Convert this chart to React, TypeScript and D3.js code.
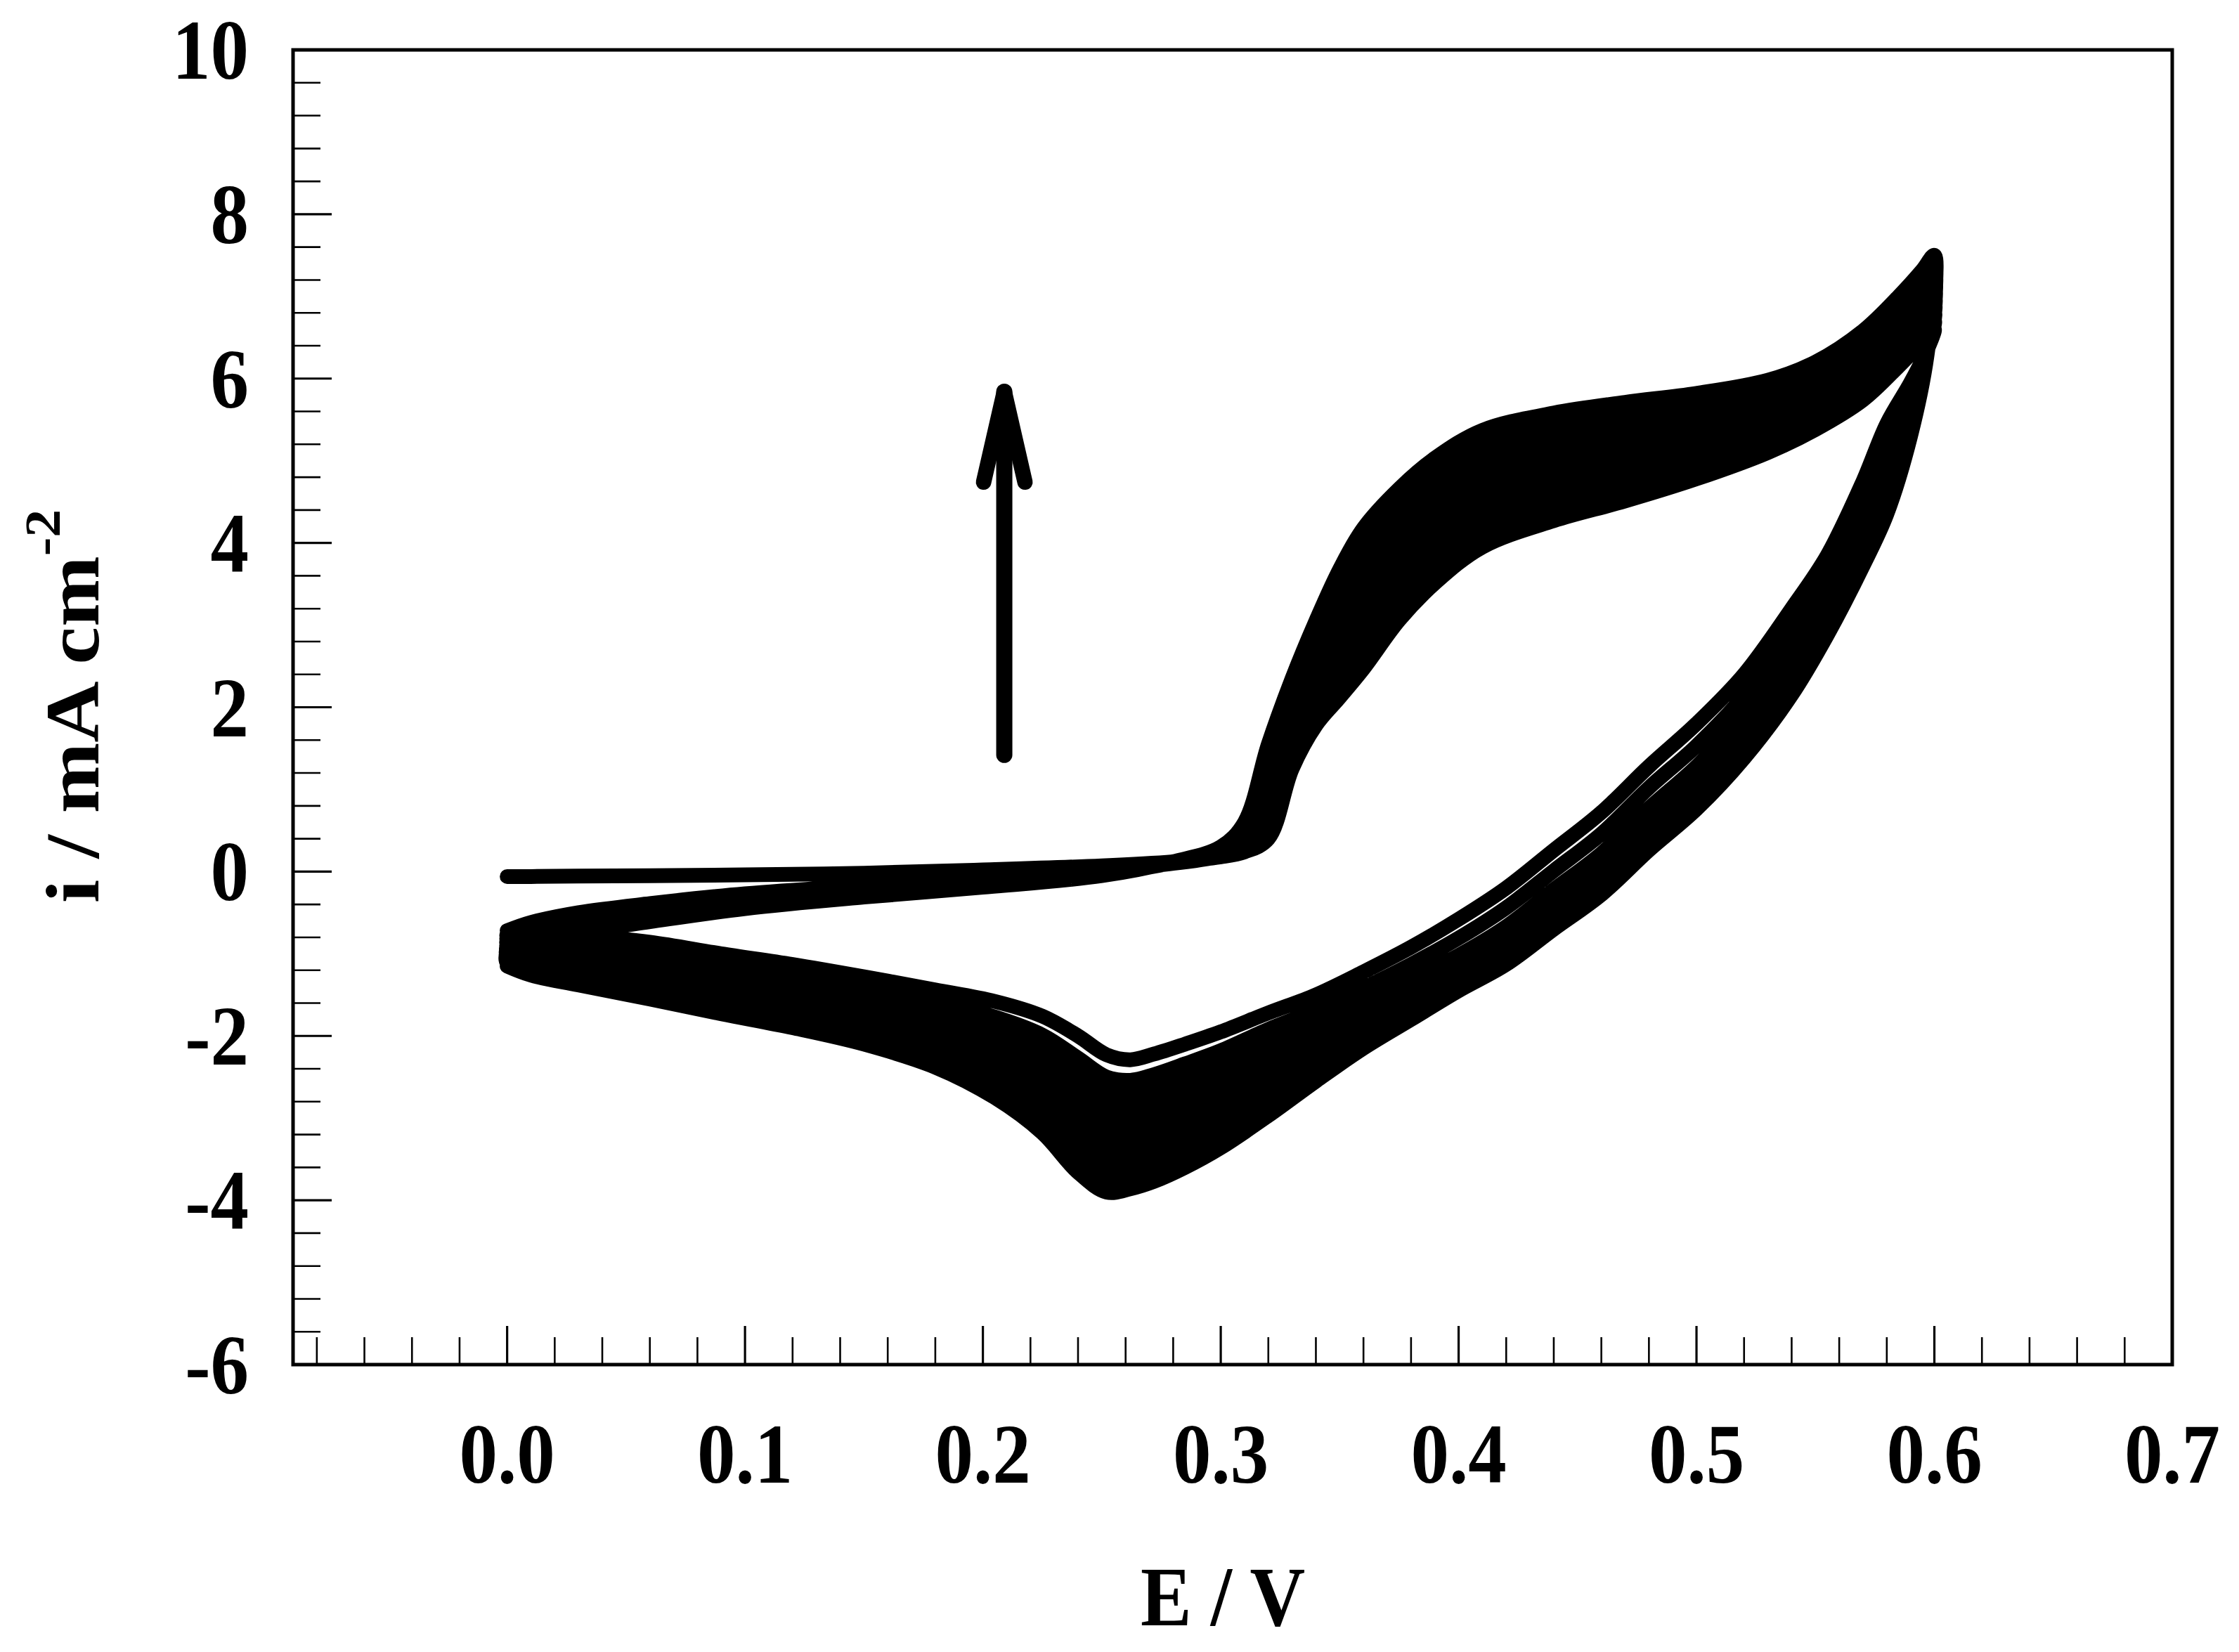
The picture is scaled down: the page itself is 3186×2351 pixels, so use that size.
import React from 'react';
import * as d3 from 'd3';

// ---------- axes ----------
const X_DOMAIN = [-0.09, 0.7];
const Y_DOMAIN = [-6, 10];
const X_TICK_VALUES = [0.0, 0.1, 0.2, 0.3, 0.4, 0.5, 0.6, 0.7];
const X_TICK_LABELS = ['0.0', '0.1', '0.2', '0.3', '0.4', '0.5', '0.6', '0.7'];
const Y_TICK_VALUES = [10, 8, 6, 4, 2, 0, -2, -4, -6];
const Y_TICK_LABELS = ['10', '8', '6', '4', '2', '0', '-2', '-4', '-6'];
const X_TITLE = 'E / V';
const Y_TITLE = 'i / mA cm';
const Y_TITLE_SUP = '-2';

// ---------- potential grids (V) ----------
const FWD_E = [0.000, 0.010, 0.030, 0.060, 0.100, 0.150, 0.200, 0.250, 0.280, 0.300, 0.310, 0.320, 0.330, 0.340, 0.350, 0.360, 0.375, 0.390, 0.410, 0.440, 0.470, 0.500, 0.530, 0.550, 0.570, 0.585, 0.595, 0.600];
const REV_E = [0.600, 0.597, 0.590, 0.580, 0.570, 0.555, 0.540, 0.520, 0.500, 0.480, 0.460, 0.440, 0.420, 0.400, 0.380, 0.360, 0.340, 0.320, 0.300, 0.285, 0.272, 0.262, 0.252, 0.240, 0.225, 0.205, 0.180, 0.150, 0.120, 0.090, 0.060, 0.030, 0.010, 0.000];

// ---------- current densities (mA cm-2), forward scans ----------
const C1_FWD = [-0.06, -0.06, -0.055, -0.05, -0.04, -0.02, 0.02, 0.07, 0.12, 0.18, 0.24, 0.40, 1.25, 1.78, 2.12, 2.47, 3.06, 3.51, 3.95, 4.27, 4.51, 4.78, 5.10, 5.38, 5.74, 6.15, 6.45, 6.60];
const C2_FWD = [-0.72, -0.62, -0.50, -0.39, -0.27, -0.17, -0.08, 0.03, 0.10, 0.19, 0.28, 0.54, 1.38, 1.93, 2.31, 2.68, 3.25, 3.69, 4.12, 4.43, 4.65, 4.91, 5.21, 5.48, 5.84, 6.25, 6.55, 6.71];
const C3_FWD = [-0.76, -0.66, -0.54, -0.42, -0.30, -0.19, -0.10, 0.02, 0.10, 0.21, 0.33, 0.67, 1.51, 2.08, 2.49, 2.87, 3.44, 3.87, 4.28, 4.58, 4.79, 5.02, 5.31, 5.57, 5.94, 6.35, 6.65, 6.81];
const C4_FWD = [-0.80, -0.69, -0.57, -0.46, -0.32, -0.21, -0.11, 0.01, 0.11, 0.22, 0.37, 0.80, 1.64, 2.23, 2.67, 3.07, 3.62, 4.04, 4.45, 4.73, 4.93, 5.14, 5.41, 5.67, 6.03, 6.45, 6.76, 6.92];
const C5_FWD = [-0.84, -0.73, -0.61, -0.49, -0.35, -0.23, -0.13, 0.00, 0.11, 0.24, 0.41, 0.93, 1.76, 2.36, 2.84, 3.26, 3.80, 4.21, 4.60, 4.87, 5.06, 5.26, 5.51, 5.76, 6.13, 6.54, 6.85, 7.01];
const C6_FWD = [-0.88, -0.76, -0.64, -0.52, -0.37, -0.25, -0.14, -0.02, 0.11, 0.25, 0.45, 1.06, 1.88, 2.50, 3.01, 3.45, 3.97, 4.38, 4.76, 5.02, 5.19, 5.37, 5.60, 5.85, 6.22, 6.64, 6.95, 7.11];
const C7_FWD = [-0.91, -0.79, -0.67, -0.54, -0.39, -0.27, -0.16, -0.03, 0.11, 0.27, 0.49, 1.18, 2.00, 2.64, 3.18, 3.63, 4.15, 4.54, 4.92, 5.16, 5.33, 5.49, 5.70, 5.94, 6.31, 6.73, 7.04, 7.21];
const C8_FWD = [-0.94, -0.81, -0.69, -0.57, -0.41, -0.28, -0.17, -0.04, 0.12, 0.28, 0.52, 1.31, 2.12, 2.78, 3.35, 3.82, 4.32, 4.71, 5.07, 5.31, 5.46, 5.60, 5.80, 6.03, 6.40, 6.82, 7.14, 7.31];
const C9_FWD = [-0.97, -0.84, -0.72, -0.59, -0.43, -0.30, -0.18, -0.04, 0.12, 0.29, 0.56, 1.43, 2.24, 2.92, 3.52, 4.00, 4.49, 4.87, 5.22, 5.44, 5.58, 5.71, 5.89, 6.11, 6.49, 6.91, 7.23, 7.41];
const C10_FWD = [-1.00, -0.86, -0.74, -0.61, -0.45, -0.31, -0.19, -0.05, 0.12, 0.30, 0.60, 1.55, 2.35, 3.05, 3.68, 4.18, 4.66, 5.03, 5.37, 5.58, 5.71, 5.82, 5.98, 6.20, 6.58, 7.00, 7.32, 7.50];

// ---------- current densities (mA cm-2), reverse scans ----------
const C1_REV = [6.60, 6.35, 5.95, 5.45, 4.75, 3.85, 3.20, 2.40, 1.80, 1.28, 0.72, 0.26, -0.20, -0.58, -0.92, -1.22, -1.50, -1.72, -1.95, -2.10, -2.22, -2.29, -2.23, -2.00, -1.76, -1.58, -1.44, -1.28, -1.13, -1.00, -0.86, -0.77, -0.73, -0.72];
const C2_REV = [6.71, 6.34, 5.78, 5.16, 4.48, 3.60, 2.93, 2.14, 1.53, 1.02, 0.46, 0.01, -0.44, -0.81, -1.13, -1.42, -1.69, -1.92, -2.18, -2.34, -2.47, -2.54, -2.50, -2.27, -1.99, -1.77, -1.59, -1.41, -1.25, -1.12, -0.97, -0.87, -0.82, -0.79];
const C3_REV = [6.81, 6.34, 5.63, 4.90, 4.24, 3.37, 2.68, 1.89, 1.28, 0.77, 0.22, -0.22, -0.67, -1.02, -1.31, -1.58, -1.84, -2.05, -2.32, -2.50, -2.63, -2.71, -2.67, -2.44, -2.14, -1.89, -1.69, -1.50, -1.33, -1.19, -1.04, -0.93, -0.87, -0.83];
const C4_REV = [6.92, 6.33, 5.57, 4.80, 4.14, 3.28, 2.58, 1.80, 1.19, 0.68, 0.13, -0.31, -0.75, -1.09, -1.39, -1.67, -1.95, -2.18, -2.47, -2.66, -2.79, -2.87, -2.85, -2.61, -2.29, -2.01, -1.79, -1.58, -1.42, -1.27, -1.12, -1.00, -0.93, -0.88];
const C5_REV = [7.01, 6.32, 5.51, 4.71, 4.06, 3.20, 2.50, 1.72, 1.10, 0.60, 0.05, -0.38, -0.82, -1.16, -1.47, -1.75, -2.05, -2.31, -2.62, -2.81, -2.96, -3.04, -3.02, -2.79, -2.44, -2.14, -1.89, -1.67, -1.50, -1.35, -1.19, -1.06, -0.98, -0.92];
const C6_REV = [7.11, 6.32, 5.46, 4.63, 3.98, 3.12, 2.41, 1.64, 1.02, 0.52, -0.03, -0.46, -0.90, -1.23, -1.54, -1.84, -2.15, -2.45, -2.77, -2.97, -3.12, -3.20, -3.20, -2.96, -2.58, -2.26, -1.99, -1.76, -1.58, -1.42, -1.26, -1.12, -1.04, -0.97];
const C7_REV = [7.21, 6.31, 5.42, 4.55, 3.91, 3.06, 2.34, 1.56, 0.95, 0.44, -0.10, -0.53, -0.96, -1.29, -1.61, -1.92, -2.26, -2.58, -2.92, -3.13, -3.28, -3.37, -3.37, -3.14, -2.73, -2.38, -2.08, -1.84, -1.66, -1.50, -1.33, -1.19, -1.09, -1.02];
const C8_REV = [7.31, 6.31, 5.38, 4.48, 3.84, 3.00, 2.28, 1.50, 0.89, 0.38, -0.16, -0.59, -1.02, -1.35, -1.68, -2.00, -2.35, -2.71, -3.06, -3.29, -3.45, -3.53, -3.55, -3.31, -2.88, -2.50, -2.18, -1.93, -1.74, -1.58, -1.41, -1.25, -1.15, -1.06];
const C9_REV = [7.41, 6.30, 5.34, 4.42, 3.78, 2.94, 2.21, 1.44, 0.82, 0.32, -0.22, -0.64, -1.07, -1.40, -1.74, -2.07, -2.45, -2.84, -3.21, -3.44, -3.61, -3.70, -3.73, -3.49, -3.03, -2.63, -2.28, -2.01, -1.82, -1.65, -1.48, -1.32, -1.20, -1.11];
const C10_REV = [7.50, 6.30, 5.30, 4.35, 3.72, 2.88, 2.15, 1.38, 0.76, 0.26, -0.28, -0.70, -1.13, -1.45, -1.80, -2.15, -2.55, -2.97, -3.36, -3.60, -3.77, -3.86, -3.90, -3.66, -3.18, -2.75, -2.38, -2.10, -1.90, -1.73, -1.55, -1.38, -1.26, -1.15];

const CYCLES = [
  [C1_FWD, C1_REV], [C2_FWD, C2_REV], [C3_FWD, C3_REV], [C4_FWD, C4_REV], [C5_FWD, C5_REV],
  [C6_FWD, C6_REV], [C7_FWD, C7_REV], [C8_FWD, C8_REV], [C9_FWD, C9_REV], [C10_FWD, C10_REV],
];

// ---------- arrow annotation (data units) ----------
const ARROW_SHAFT = [[0.209, 1.42], [0.209, 5.84]];
const ARROW_HEAD = [[0.2003, 4.74], [0.209, 5.84], [0.2177, 4.74]];

const FONT = "'Liberation Serif', 'Times New Roman', Times, serif";

export default function App() {
  const W = 3186, H = 2351;
  const L = 417, R = 3091, T = 71, B = 1942;
  const x = d3.scaleLinear().domain(X_DOMAIN).range([L, R]);
  const y = d3.scaleLinear().domain(Y_DOMAIN).range([B, T]);

  const pts: [number, number][] = [];
  CYCLES.forEach(([fwd, rev]) => {
    fwd.forEach((v, j) => pts.push([FWD_E[j], v]));
    rev.forEach((v, j) => { if (j > 0) pts.push([REV_E[j], v]); });
  });
  const line = d3.line<[number, number]>()
    .x(d => x(d[0]))
    .y(d => y(d[1]))
    .curve(d3.curveCatmullRom.alpha(0.5));
  const arrowLine = d3.line<number[]>().x(d => x(d[0])).y(d => y(d[1]));

  const xMinor = d3.range(-4, 35).map(j => ({ v: j * 0.02, major: j % 5 === 0 }));
  const yMinor = d3.range(1, 40).map(j => ({ v: -6 + j * 0.4, major: j % 5 === 0 }));
  const SY = 1.11;
  const FS = 109;

  return (
    <svg width={W} height={H} style={{ position: 'absolute', left: 0, top: 0, display: 'block' }}
      xmlns="http://www.w3.org/2000/svg">
      <rect x={0} y={0} width={W} height={H} fill="#ffffff" />
      {/* data */}
      <path d={line(pts) || ''} fill="none" stroke="#000" strokeWidth={21}
        strokeLinejoin="round" strokeLinecap="round" />
      {/* arrow */}
      <path d={arrowLine(ARROW_SHAFT) || ''} fill="none" stroke="#000" strokeWidth={23} strokeLinecap="round" />
      <path d={arrowLine(ARROW_HEAD) || ''} fill="none" stroke="#000" strokeWidth={22}
        strokeLinecap="round" strokeLinejoin="round" />
      {/* ticks */}
      {xMinor.map((t, i) => (
        <line key={'xt' + i} x1={x(t.v)} x2={x(t.v)} y1={B} y2={B - (t.major ? 55 : 39)}
          stroke="#000" strokeWidth={t.major ? 3.2 : 2.6} />
      ))}
      {yMinor.map((t, i) => (
        <line key={'yt' + i} x1={L} x2={L + (t.major ? 55 : 39)} y1={y(t.v)} y2={y(t.v)}
          stroke="#000" strokeWidth={t.major ? 3.2 : 2.6} />
      ))}
      {/* frame */}
      <rect x={L} y={T} width={R - L} height={B - T} fill="none" stroke="#000" strokeWidth={5} />
      {/* tick labels */}
      {X_TICK_VALUES.map((v, i) => (
        <text key={'xl' + i} transform={`translate(${x(v)},2110) scale(1,${SY})`} textAnchor="middle"
          fontFamily={FONT} fontWeight="bold" fontSize={FS} fill="#000">{X_TICK_LABELS[i]}</text>
      ))}
      {Y_TICK_VALUES.map((v, i) => (
        <text key={'yl' + i} transform={`translate(354,${y(v) + 41}) scale(1,${SY})`} textAnchor="end"
          fontFamily={FONT} fontWeight="bold" fontSize={FS} fill="#000">{Y_TICK_LABELS[i]}</text>
      ))}
      {/* axis titles */}
      <text transform={`translate(1740,2313) scale(1,${SY})`} textAnchor="middle"
        fontFamily={FONT} fontWeight="bold" fontSize={FS} fill="#000">{X_TITLE}</text>
      <text transform={`translate(140,1005) scale(1,${SY}) rotate(-90)`} textAnchor="middle"
        fontFamily={FONT} fontWeight="bold" fontSize={FS} fill="#000">
        <tspan>{Y_TITLE}</tspan>
        <tspan dy={-55} fontSize={72}>{Y_TITLE_SUP}</tspan>
      </text>
    </svg>
  );
}
